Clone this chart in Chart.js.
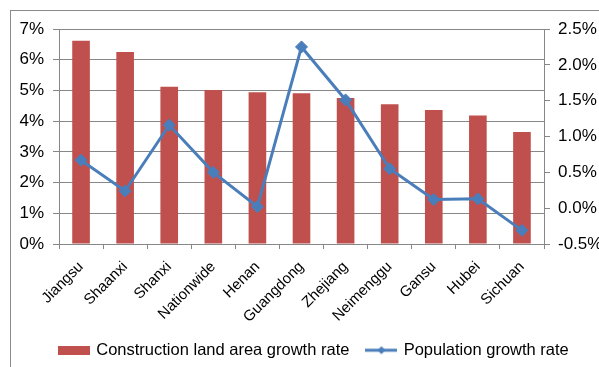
<!DOCTYPE html>
<html>
<head>
<meta charset="utf-8">
<script src="https://cdn.jsdelivr.net/npm/chart.js@4/dist/chart.umd.min.js"></script>
<style>
html,body{margin:0;padding:0;background:#fff;}
#wrap{width:599px;height:367px;position:relative;}
</style>
</head>
<body>
<div id="wrap"><canvas id="c" width="599" height="367"></canvas></div>
<script>
const categories = ['Jiangsu','Shaanxi','Shanxi','Nationwide','Henan','Guangdong','Zhejiang','Neimenggu','Gansu','Hubei','Sichuan'];
const landGrowth = [6.62, 6.25, 5.12, 5.01, 4.94, 4.91, 4.75, 4.55, 4.36, 4.18, 3.65];
const popGrowth = [0.67, 0.24, 1.16, 0.50, 0.02, 2.25, 1.51, 0.55, 0.12, 0.13, -0.31];
const seriesNames = ['Construction land area growth rate', 'Population growth rate'];

const RED = '#C0504D';
const BLUE = '#4A7EBB';
const GRID = '#878787';
const FONT = "'Liberation Sans', Arial, sans-serif";

function barIcon(){
  const c = document.createElement('canvas'); c.width = 32; c.height = 9;
  const g = c.getContext('2d'); g.fillStyle = RED; g.fillRect(0,0,32,9); return c;
}
function lineIcon(){
  const c = document.createElement('canvas'); c.width = 32; c.height = 12;
  const g = c.getContext('2d');
  g.strokeStyle = BLUE; g.lineWidth = 3; g.beginPath(); g.moveTo(0,6); g.lineTo(32,6); g.stroke();
  g.fillStyle = BLUE; g.beginPath(); g.moveTo(16,2); g.lineTo(20,6); g.lineTo(16,10); g.lineTo(12,6); g.closePath(); g.fill();
  return c;
}
const icons = [barIcon(), lineIcon()];

const frame = {
  id: 'frame',
  beforeDraw(chart){
    const ctx = chart.ctx;
    ctx.save();
    ctx.fillStyle = '#fff'; ctx.fillRect(0,0,chart.width,chart.height);
    ctx.strokeStyle = '#8a8a8a'; ctx.lineWidth = 1;
    ctx.strokeRect(10.5, 10.5, 700, 500);
    ctx.restore();
    const lg = chart.legend;
    if (lg) { const h = lg.height; lg.left = 42; lg.top = 324; lg.right = 599; lg.bottom = 324 + h; lg.width = 599 - 42; }
  }
};

new Chart(document.getElementById('c'), {
  data: {
    labels: categories,
    datasets: [
      { type: 'line', label: seriesNames[1], data: popGrowth, yAxisID: 'y1', order: 0,
        borderColor: BLUE, backgroundColor: BLUE, borderWidth: 3, tension: 0,
        pointStyle: 'rectRot', pointRadius: 6, pointBorderWidth: 1, pointBackgroundColor: BLUE, pointBorderColor: BLUE },
      { type: 'bar', label: seriesNames[0], data: landGrowth, yAxisID: 'y', order: 1,
        backgroundColor: RED, barPercentage: 0.4, categoryPercentage: 1.0 }
    ]
  },
  options: {
    responsive: false,
    animation: false,
    layout: { padding: { top: 29, left: 0, right: 0, bottom: 0 } },
    plugins: {
      tooltip: { enabled: false },
      legend: {
        position: 'bottom',
        align: 'start',
        labels: {
          usePointStyle: true,
          pointStyleWidth: 28,
          padding: 18,
          color: '#000',
          font: { family: FONT, size: 16.5 },
          generateLabels(chart){
            return [0,1].map(i => ({
              text: seriesNames[i], pointStyle: icons[i], fillStyle: i ? BLUE : RED,
              strokeStyle: i ? BLUE : RED, fontColor: '#000', lineWidth: 0, hidden: false,
              datasetIndex: i === 0 ? 1 : 0, textAlign: 'left'
            }));
          }
        }
      }
    },
    scales: {
      x: {
        offset: true,
        grid: { offset: true, drawOnChartArea: false, color: GRID, tickLength: 5 },
        border: { color: GRID },
        ticks: { color: '#000', font: { family: FONT, size: 15 }, minRotation: 45, maxRotation: 45, autoSkip: false, padding: 9 },
        afterFit(s){ const lh = s.chart.legend ? s.chart.legend.height : 0; s.height = 367 - 244 - lh; }
      },
      y: {
        position: 'left', min: 0, max: 7,
        grid: { color: GRID, tickLength: 6 },
        border: { color: GRID },
        ticks: { stepSize: 1, color: '#000', padding: 9, font: { family: FONT, size: 17 }, callback: v => v + '%' },
        afterFit(s){ s.width = 59; }
      },
      y1: {
        position: 'right', min: -0.5, max: 2.5,
        grid: { drawOnChartArea: false, color: GRID, tickLength: 6 },
        border: { color: GRID },
        ticks: { stepSize: 0.5, color: '#000', padding: 8, font: { family: FONT, size: 17 }, callback: v => Number(v).toFixed(1) + '%' },
        afterFit(s){ s.width = 55; }
      }
    }
  },
  plugins: [frame]
});
</script>
</body>
</html>
